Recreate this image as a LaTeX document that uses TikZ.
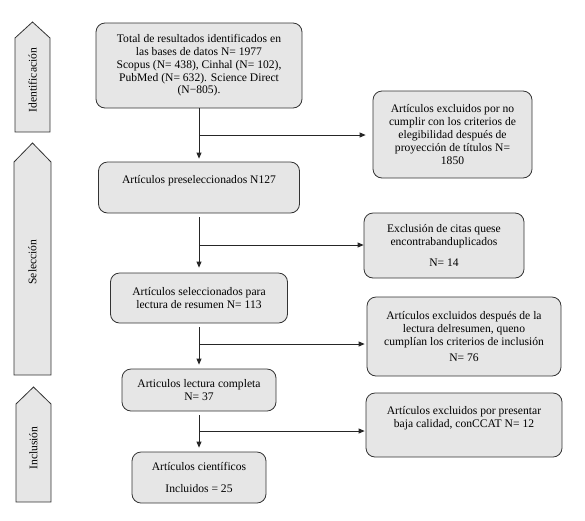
\documentclass[tikz,border=0pt]{standalone}
\usepackage{fontspec}
\setmainfont{Liberation Serif}
\usetikzlibrary{positioning,arrows.meta}
\definecolor{boxgray}{HTML}{E6E6E6}

\begin{document}
\begin{tikzpicture}[x=1pt,y=-1pt,
	n_st/.style={
		rectangle,
		draw=black!80,
		fill=boxgray,
		line width=0.8pt,
		rounded corners=9pt,
		inner sep=0pt,
		align=center,
		font=\fontsize{11.6}{12.8}\selectfont,
		},
	n_ph/.style={draw=black!80, fill=boxgray, line width=0.8pt},
	n_lbl/.style={rotate=90, font=\fontsize{11.6}{12.8}\selectfont},
	flow/.style={-{Triangle[length=6pt,width=5pt]}, line width=0.8pt, black!85},
	]

	\useasboundingbox (0,0) rectangle (585,520);

	% phases
	\draw[n_ph] (15,132) -- (15,38) -- (32.5,22) -- (50,38) -- (50,132) -- cycle;
	\draw[n_ph] (14,375) -- (14,162) -- (32.5,143) -- (51,162) -- (51,375) -- cycle;
	\draw[n_ph] (16,502) -- (16,404) -- (33.5,387) -- (51,404) -- (51,502) -- cycle;
	\node(ident)[n_lbl] at (32.5,80) {Identificación};
	\node(selec)[n_lbl] at (32.5,262) {Selección};
	\node(inclu)[n_lbl] at (33.5,448) {Inclusión};

	% main column
	\node(total)[n_st, minimum width=206pt, minimum height=85pt] at (199,65.5)
		{Total de resultados identificados en\\ las bases de datos N= 1977\\ Scopus (N= 438), Cinhal (N= 102),\\ PubMed (N= 632). Science Direct\\ (N−805).};
	\node(pre)[n_st, minimum width=201pt, minimum height=51pt] at (199,187.5)
		{Artículos preseleccionados N127\\[4pt]};
	\node(sel)[n_st, minimum width=177pt, minimum height=50pt] at (199,298)
		{Artículos seleccionados para\\ lectura de resumen N= 113};
	\node(comp)[n_st, minimum width=154pt, minimum height=42pt] at (199,390)
		{Articulos lectura completa\\ N= 37};
	\node(inc)[n_st, minimum width=134pt, minimum height=51pt] at (199,477.5)
		{Artículos científicos\\[10pt] Incluidos = 25};

	% excluded
	\node(ex1)[n_st, minimum width=159pt, minimum height=87pt] at (452.5,134.5)
		{Artículos excluidos por no\\ cumplir con los criterios de\\ elegibilidad después de\\ proyección de títulos N=\\ 1850};
	\node(ex2)[n_st, minimum width=160pt, minimum height=65pt] at (444,245.5)
		{Exclusión de citas quese\\ encontrabanduplicados\\[8pt] N= 14};
	\node(ex3)[n_st, minimum width=194pt, minimum height=79pt] at (464,336.5)
		{Artículos excluidos después de la\\ lectura delresumen, queno\\ cumplían los criterios de inclusión\\[3pt] N= 76};
	\node(ex4)[n_st, minimum width=196pt, minimum height=64pt] at (464,425)
		{Artículos excluidos por presentar\\ baja calidad, conCCAT N= 12\\[4pt]};

	\coordinate(j1) at (199,135);
	\coordinate(j2) at (199,245);
	\coordinate(j3) at (199,344);
	\coordinate(j4) at (199,431);

	\path (total) edge[flow, shorten >=3pt] (pre);
	\path (pre) edge[flow, shorten <=4pt, shorten >=5pt] (sel);
	\path (sel) edge[flow, shorten <=4pt, shorten >=4pt] (comp);
	\path (comp) edge[flow, shorten <=4pt, shorten >=4pt] (inc);
	\draw[flow, shorten >=7pt] (j1) -- (j1 -| ex1.west);
	\draw[flow, shorten >=0pt] (j2) -- (j2 -| ex2.west);
	\draw[flow, shorten >=2pt] (j3) -- (j3 -| ex3.west);
	\draw[flow, shorten >=1pt] (j4) -- (j4 -| ex4.west);

\end{tikzpicture}
\end{document}
